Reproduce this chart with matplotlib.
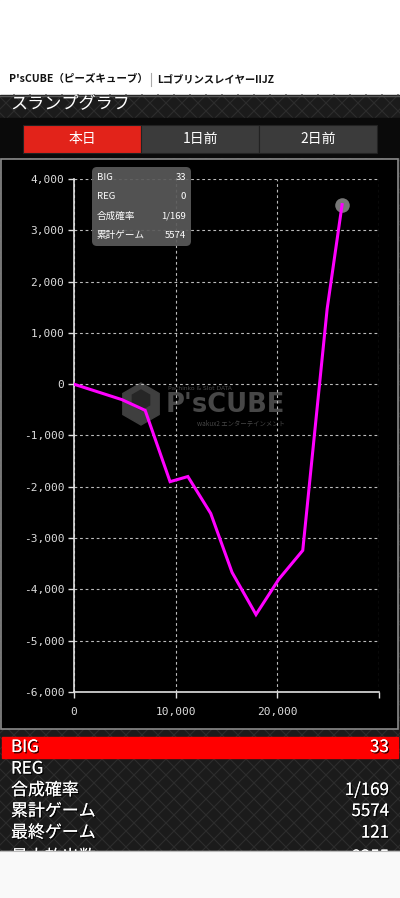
import matplotlib
matplotlib.use("Agg")
import matplotlib.pyplot as plt
from matplotlib.patches import Rectangle, FancyBboxPatch
from matplotlib.ticker import FuncFormatter
import matplotlib.patheffects as pe
import numpy as np

plt.rcParams['font.family'] = ['Noto Sans CJK JP', 'DejaVu Sans']

# ---- data ----
games = [0, 4700, 7000, 9450, 11200, 13450, 15550, 17900, 20150, 22500, 24900, 26370]
diff = [0, -300, -510, -1900, -1800, -2520, -3670, -4490, -3800, -3240, 1470, 3500]
x_ticks = [0, 10000, 20000, 30000]
y_ticks = [4000, 3000, 2000, 1000, 0, -1000, -2000, -3000, -4000, -5000, -6000]
tabs = ["本日", "1日前", "2日前"]
tip_labels = ["BIG", "REG", "合成確率", "累計ゲーム"]
tip_values = ["33", "0", "1/169", "5574"]
stat_labels = ["BIG", "REG", "合成確率", "累計ゲーム", "最終ゲーム", "最大放出数"]
stat_values = ["33", "", "1/169", "5574", "121", "8355"]

W, H = 400, 898
fig = plt.figure(figsize=(W / 100, H / 100), dpi=100)
fig.patch.set_facecolor("#f9f9f9")

bg = fig.add_axes([0, 0, 1, 1])
bg.axis("off")

# top white area
bg.add_patch(Rectangle((0, 0), W, 95, color="white", zorder=0))
bg.text(9, 79, "P'sCUBE（ピーズキューブ）", fontsize=7.6, fontweight="bold",
        color="#111", va="center", ha="left")
bg.plot([150.5, 150.5], [73, 86], color="#aaa", lw=0.8)
bg.text(157, 79, "LゴブリンスレイヤーIIJZ", fontsize=7.4, fontweight="bold",
        color="#111", va="center", ha="left")

PANEL_END = 851

# dark patterned body
def dark_pattern(y0, y1):
    bg.add_patch(Rectangle((0, y0), W, y1 - y0, color="#1b1b1b", zorder=0.5))
    step = 16
    for k in np.arange(-H, W + H, step):
        bg.plot([k, k + (y1 - y0)], [y0, y1], color="#2d2d2d", lw=0.8, zorder=0.6)
        bg.plot([k, k - (y1 - y0)], [y0, y1], color="#2d2d2d", lw=0.8, zorder=0.6)

dark_pattern(95, PANEL_END)
bg.plot([0, W], [95.5, 95.5], color="#555", lw=1, zorder=0.8)

bg.text(10, 104, "スランプグラフ", fontsize=12.3, color="white", va="center",
        ha="left", zorder=2)

# tab bar
bg.add_patch(Rectangle((0, 118), W, 39, color="#0a0a0a", zorder=1))
tab_x = [23, 141, 259]
for i, (tx, lab) in enumerate(zip(tab_x, tabs)):
    fc = "#e2231a" if i == 0 else "#3b3b3b"
    bg.add_patch(Rectangle((tx, 125), 118, 28, facecolor=fc, edgecolor="#222",
                           lw=0.8, zorder=1.5))
    bg.text(tx + 59, 139.5, lab, fontsize=10, color="white", ha="center",
            va="center", zorder=2)

# chart panel
bg.add_patch(Rectangle((1, 159), 397, 570, facecolor="black", edgecolor="#8a8a8a",
                       lw=1.2, zorder=1))

# stats panel
row_y = [747, 768.5, 790, 811, 832.5, 857]
bg.add_patch(Rectangle((2, 736.5), 396, 21, color="#ff0000", zorder=1.5))
shadow = [pe.withSimplePatchShadow(offset=(1, -1), shadow_rgbFace="black", alpha=0.8),
          pe.Normal()]
for yy, lab, val in zip(row_y, stat_labels, stat_values):
    bg.text(11, yy, lab, fontsize=12.2, color="white", ha="left", va="center",
            zorder=2, path_effects=shadow)
    bg.text(389, yy, val, fontsize=12.2, color="white", ha="right", va="center",
            zorder=2, path_effects=shadow)
bg.add_patch(Rectangle((0, PANEL_END), W, H - PANEL_END, color="#f9f9f9", zorder=3))
bg.plot([0, W], [PANEL_END, PANEL_END], color="#bbb", lw=0.8, zorder=3.1)

bg.set_xlim(0, W)
bg.set_ylim(H, 0)

# watermark
wm = "#474747"
bg.text(166, 405, "P'sCUBE", fontsize=18.5, fontweight="bold", color=wm,
        ha="left", va="center", zorder=1.2, family="DejaVu Sans")
bg.text(168, 388, "Pachinko & Slot DATA", fontsize=4.3, color=wm,
        ha="left", va="center", zorder=1.2, family="DejaVu Sans")
bg.text(197, 423, "wakux2 エンターテインメント", fontsize=4.6, color=wm,
        ha="left", va="center", zorder=1.2)
ang = np.linspace(0, 2 * np.pi, 7) + np.pi / 6
bg.fill(141 + 21 * np.cos(ang), 404 + 21 * np.sin(ang), color="#3f3f3f", zorder=1.2)
bg.fill(141 + 10 * np.cos(ang), 400 + 10 * np.sin(ang), color="#262626", zorder=1.25)

# chart axes
x0, x1 = 74, 379
ytop, ybot = 179, 692
ax = fig.add_axes([x0 / W, 1 - ybot / H, (x1 - x0) / W, (ybot - ytop) / H])
ax.set_facecolor("none")
ax.set_xlim(0, 30000)
ax.set_ylim(-6000, 4000)
ax.set_xticks(x_ticks)
ax.set_yticks(y_ticks)
ax.yaxis.set_major_formatter(FuncFormatter(lambda v, p: f"{int(v):,}"))
ax.set_xticklabels([f"{t:,}" if t < 30000 else "" for t in x_ticks])
for s in ["top", "right"]:
    ax.spines[s].set_visible(False)
for s in ["left", "bottom"]:
    ax.spines[s].set_color("#e0e0e0")
    ax.spines[s].set_linewidth(1.2)
ax.tick_params(colors="#e0e0e0", labelsize=8, length=4, width=1)
ax.tick_params(axis="x", pad=7)
ax.tick_params(axis="y", pad=3)
for lab in ax.get_xticklabels() + ax.get_yticklabels():
    lab.set_family("DejaVu Sans Mono")
    lab.set_color("#dddddd")
ax.grid(True, color="#bbbbbb", ls=(0, (2.5, 2.5)), lw=0.8)
ax.set_axisbelow(True)

ax.plot(games, diff, color="#ff00ff", lw=2.2, zorder=5, solid_joinstyle="miter")
ax.scatter([games[-1]], [diff[-1]], s=110, color="#777777", zorder=4, lw=0)

# tooltip
top = fig.add_axes([0, 0, 1, 1])
top.axis("off")
top.add_patch(FancyBboxPatch((92, 167), 99, 79, boxstyle="round,pad=0,rounding_size=5",
                             facecolor="#5a5a5a", edgecolor="none", alpha=0.92,
                             zorder=6))
for i, (l, v) in enumerate(zip(tip_labels, tip_values)):
    yy = 177 + i * 19.5
    top.text(97, yy, l, fontsize=6.9, color="white", ha="left", va="center", zorder=7)
    top.text(186, yy, v, fontsize=6.9, color="white", ha="right", va="center",
             zorder=7)
top.set_xlim(0, W)
top.set_ylim(H, 0)

fig.savefig("out.png", dpi=100, facecolor=fig.get_facecolor())
